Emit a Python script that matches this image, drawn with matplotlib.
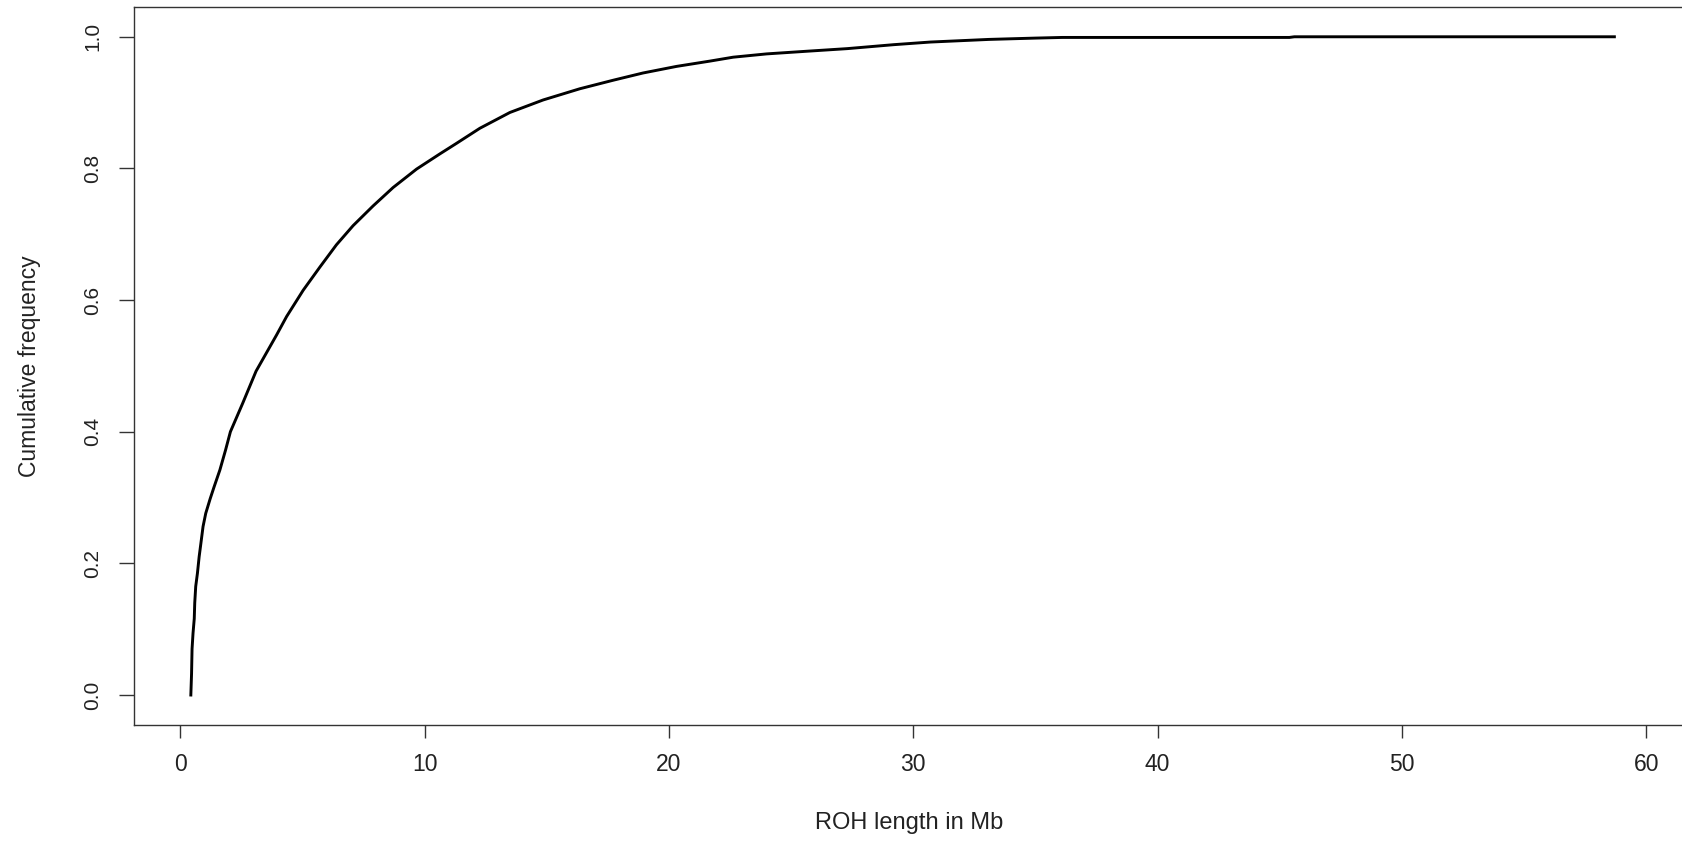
import matplotlib
matplotlib.use("Agg")
import matplotlib.pyplot as plt

plt.rcParams['font.family'] = ['Liberation Sans', 'DejaVu Sans']

# cumulative frequency curve
roh_mb = [0.43, 0.46, 0.48, 0.52, 0.57, 0.59, 0.63, 0.70, 0.77, 0.84, 0.93, 1.04,
          1.22, 1.38, 1.62, 1.85, 2.05, 2.55, 3.1, 3.94, 4.35, 5.03, 5.71, 6.39,
          7.07, 7.89, 8.71, 9.67, 10.62, 11.3, 12.26, 13.49, 14.85, 16.35, 17.72,
          18.94, 20.31, 21.67, 22.63, 24.0, 25.63, 27.3, 29.2, 30.7, 33.1, 35.0,
          36.1, 45.4, 45.6, 58.7]
cum_freq = [0.0, 0.033, 0.07, 0.094, 0.116, 0.14, 0.165, 0.185, 0.21, 0.23, 0.256, 0.276,
            0.298, 0.316, 0.342, 0.372, 0.40, 0.443, 0.492, 0.547, 0.575, 0.615, 0.65, 0.684,
            0.713, 0.743, 0.771, 0.799, 0.822, 0.838, 0.861, 0.885, 0.904, 0.921, 0.934,
            0.945, 0.955, 0.963, 0.969, 0.974, 0.978, 0.982, 0.988, 0.992, 0.996, 0.998,
            0.999, 0.999, 1.0, 1.0]
x_ticks = [0, 10, 20, 30, 40, 50, 60]
y_ticks = [0.0, 0.2, 0.4, 0.6, 0.8, 1.0]

W, H = 1682, 843
fig = plt.figure(figsize=(W / 100, H / 100), dpi=100)
ax = fig.add_axes([134.4 / W, 1 - 725.3 / H, 1549.6 / W, 718.8 / H])

ax.plot(roh_mb, cum_freq, color='black', lw=2.1)

ax.set_xlim(-1.88, 61.55)
ax.set_ylim(-0.046, 1.046)
ax.set_xticks(x_ticks)
ax.set_xticklabels([str(t) for t in x_ticks])
ax.set_yticks(y_ticks)
ax.set_yticklabels(['%.1f' % t for t in y_ticks], rotation=90, va='center')

for s in ax.spines.values():
    s.set_color('#333333')
    s.set_linewidth(1.0)

ax.tick_params(axis='x', length=9, width=1.0, color='#333333', pad=11,
               labelsize=16.5, labelcolor='#222222')
ax.tick_params(axis='y', length=11, width=1.0, color='#333333', pad=12,
               labelsize=15, labelcolor='#222222')

fig.text((134.4 + 1684) / 2 / W, 1 - 823 / H, 'ROH length in Mb',
         ha='center', va='center', fontsize=17, color='#222222')
fig.text(30 / W, 1 - 366 / H, 'Cumulative frequency', rotation=90,
         ha='center', va='center', fontsize=16.5, color='#222222')

fig.savefig('out.png', dpi=100)
